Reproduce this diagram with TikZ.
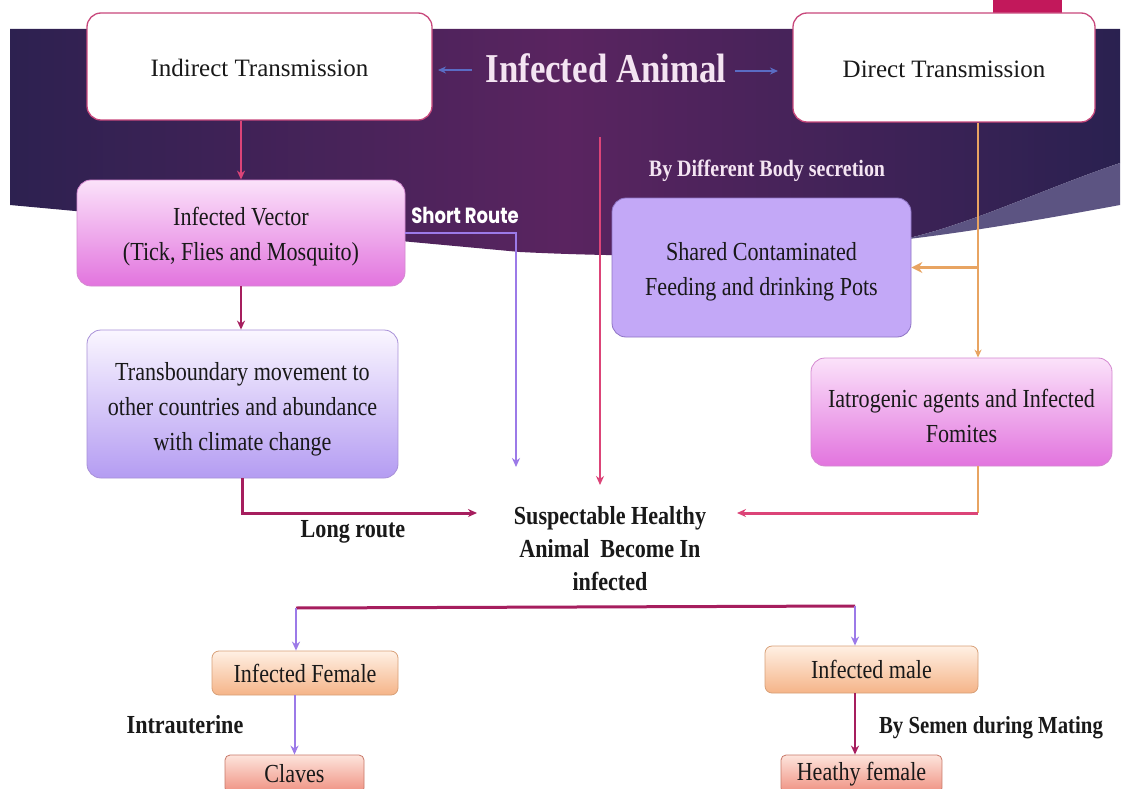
\documentclass[tikz,border=0pt]{standalone}
\usepackage{fontspec}
\setmainfont{Liberation Serif}[FakeStretch=0.85]
\newfontfamily\plainserif{Liberation Serif}
\newfontfamily\gothic{Poppins}[FakeStretch=0.82]
\usetikzlibrary{arrows.meta,calc}
\newcommand\tstrut[1]{\rule{0pt}{#1}}
\definecolor{bannerL}{HTML}{2D2150}
\definecolor{bannerM}{HTML}{5A2460}
\definecolor{bannerR}{HTML}{2A2150}
\definecolor{band}{HTML}{5C5482}
\definecolor{magrect}{HTML}{C2185B}
\definecolor{boxpink}{HTML}{C8487C}
\definecolor{arrowpink}{HTML}{DC4478}
\definecolor{crimson}{HTML}{A61E5E}
\definecolor{lav}{HTML}{9C7AE8}
\definecolor{orangeA}{HTML}{E8A462}
\definecolor{titleblue}{HTML}{5A6CC4}
\definecolor{titletext}{HTML}{F4E4F2}
\definecolor{pinkTop}{HTML}{FBE2FA}
\definecolor{pinkBot}{HTML}{E274DE}
\definecolor{pinkEdge}{HTML}{D488D0}
\definecolor{lavTop}{HTML}{FAF6FF}
\definecolor{lavBot}{HTML}{B49CF2}
\definecolor{lavEdge}{HTML}{A890D8}
\definecolor{lavFlat}{HTML}{C3A8F7}
\definecolor{lavFlatEdge}{HTML}{8E74C4}
\definecolor{peachTop}{HTML}{FFF0E4}
\definecolor{peachBot}{HTML}{F5B488}
\definecolor{peachEdge}{HTML}{D8A078}
\definecolor{salTop}{HTML}{FDE4DC}
\definecolor{salBot}{HTML}{EF9080}
\definecolor{salEdge}{HTML}{C87868}
\tikzset{
  box/.style={align=center, inner sep=0pt, rounded corners=14pt, text=black!90,
    font=\fontsize{26}{35}\selectfont},
  whitebox/.style={box, fill=white, draw=boxpink, line width=1.3pt,
    font=\plainserif\fontsize{25}{30}\selectfont},
  vectorbox/.style={box, top color=pinkTop, bottom color=pinkBot, draw=pinkEdge, line width=0.8pt},
  transbox/.style={box, top color=lavTop, bottom color=lavBot, draw=lavEdge, line width=0.8pt},
  sharedbox/.style={box, fill=lavFlat, draw=lavFlatEdge, line width=0.8pt},
  peachbox/.style={box, rounded corners=7pt, top color=peachTop, bottom color=peachBot, draw=peachEdge, line width=0.8pt},
  salmonbox/.style={box, rounded corners=5pt, top color=salTop, bottom color=salBot, draw=salEdge, line width=0.8pt},
  lbl/.style={inner sep=0pt, anchor=base, text=black!90, font=\bfseries\fontsize{26}{35}\selectfont},
  tip/.style={-{Stealth[length=9pt,width=8pt]}},
  pinkarrow/.style={tip, draw=arrowpink, line width=1.6pt},
  crimsonarrow/.style={tip, draw=crimson, line width=2.4pt},
  crimsonline/.style={draw=crimson, line width=3pt},
  crimsonthick/.style={tip, draw=crimson, line width=3pt},
  lavarrow/.style={tip, draw=lav, line width=2pt},
  orangeline/.style={draw=orangeA, line width=2pt},
  orangearrow/.style={-{Stealth[length=8pt,width=7pt]}, draw=orangeA, line width=2pt},
  orangethick/.style={-{Stealth[length=11pt,width=11pt]}, draw=orangeA, line width=3.5pt},
  pinkthick/.style={tip, draw=arrowpink, line width=3pt},
  titlearrow/.style={-{Stealth[length=8pt,width=7pt]}, draw=titleblue, line width=1.8pt},
}
\begin{document}
\begin{tikzpicture}[x=1pt,y=-1pt]
\useasboundingbox (0,0) rectangle (1122,789);
\clip (0,0) rectangle (1122,789);
\fill[white] (0,0) rectangle (1122,789);
% banner
\shade[left color=bannerL, right color=bannerR, middle color=bannerM]
  (10,29) -- (1120,29) -- (1120,163)
  .. controls (1040,190) and (970,225) .. (900,240)
  .. controls (800,258) and (640,258) .. (520,252) -- (10,205) -- cycle;
\fill[band] (1120,163) .. controls (1040,190) and (970,225) .. (900,240)
  .. controls (970,232) and (1050,218) .. (1120,205) -- cycle;
\fill[magrect] (993,0) rectangle (1062,14);

% boxes
\node[whitebox, minimum width=345pt, minimum height=107pt] (ind) at (259.5,66.5) {\tstrut{20pt}Indirect Transmission};
\node[whitebox, minimum width=302pt, minimum height=109pt] (dir) at (944,67.5) {\tstrut{20pt}Direct Transmission};
\node[vectorbox, minimum width=328pt, minimum height=106pt] (vec) at (241,233) {\tstrut{25pt}Infected Vector\\(Tick, Flies and Mosquito)};
\node[transbox, minimum width=311pt, minimum height=148pt] (trans) at (242.5,404) {\tstrut{28pt}Transboundary movement to\\other countries and abundance\\with climate change};
\node[sharedbox, minimum width=299pt, minimum height=139pt] (shared) at (761.5,267.5) {\tstrut{26pt}Shared Contaminated\\Feeding and drinking Pots};
\node[vectorbox, minimum width=301pt, minimum height=108pt] (iat) at (961.5,412) {\tstrut{27pt}Iatrogenic agents and Infected\\Fomites};
\node[peachbox, minimum width=186pt, minimum height=44pt] (fem) at (305,673) {Infected Female};
\node[peachbox, minimum width=213pt, minimum height=47pt] (male) at (871.5,669.5) {Infected male};
\node[salmonbox, minimum width=139pt, minimum height=38pt] (claves) at (294.5,774) {Claves};
\node[salmonbox, minimum width=161pt, minimum height=38pt] (hfem) at (861.5,774) {Heathy female};

% texts
\node[lbl, text=titletext, font=\bfseries\fontsize{41}{41}\selectfont] (title) at (606,83) {Infected Animal};
\node[lbl, text=titletext, font=\bfseries\fontsize{23.5}{30}\selectfont] (secr) at (767,177) {By Different Body secretion};
\node[lbl, text=white, font=\gothic\bfseries\fontsize{22}{26}\selectfont] (short) at (465,223) {Short Route};
\node[lbl] (long) at (353,537) {Long route};
\node[lbl] (intra) at (185,733) {Intrauterine};
\node[lbl, font=\bfseries\fontsize{24.5}{30}\selectfont] (semen) at (991,733) {By Semen during Mating};
\node[inner sep=0pt, align=center, text=black!90, font=\bfseries\fontsize{26}{33}\selectfont] (sus) at (610,549) {Suspectable Healthy\\Animal\ \ Become In\\infected};

% coordinates
\coordinate (taL1) at (472,70);
\coordinate (taL2) at (438,70);
\coordinate (taR1) at (735,71);
\coordinate (taR2) at (778,71);
\coordinate (srEnd) at (516,467);
\coordinate (lrEnd) at (477,513);
\coordinate (cTop) at (600,137);
\coordinate (cEnd) at (600,485);
\coordinate (ox) at (978,0);
\coordinate (rEnd) at (737,513);
\coordinate (bl) at (296,608);
\coordinate (br) at (855,606);

% connectors
\draw[titlearrow] (taL1) -- (taL2);
\draw[titlearrow] (taR1) -- (taR2);
\draw[pinkarrow] (ind.south -| vec.north) -- (vec.north);
\draw[crimsonarrow] (vec.south) -- (vec.south |- trans.north);
\draw[lavarrow] (vec.east) -| (srEnd);
\draw[crimsonthick] (trans.south) |- (lrEnd);
\draw[pinkarrow] (cTop) -- (cEnd);
\draw[orangearrow] (dir.south -| ox) -- (iat.north -| ox);
\draw[orangethick] (ox |- shared.east) -- (shared.east);
\draw[orangeline] (iat.south -| ox) -- (ox |- rEnd);
\draw[pinkthick] (ox |- rEnd) -- (rEnd);
\draw[crimsonline] (bl) -- (br);
\draw[lavarrow] (bl) -- (bl |- fem.north);
\draw[lavarrow] (br) -- (br |- male.north);
\draw[lavarrow] (fem.south -| claves.north) -- (claves.north);
\draw[crimsonarrow] (br |- male.south) -- (br |- hfem.north);
\end{tikzpicture}
\end{document}
